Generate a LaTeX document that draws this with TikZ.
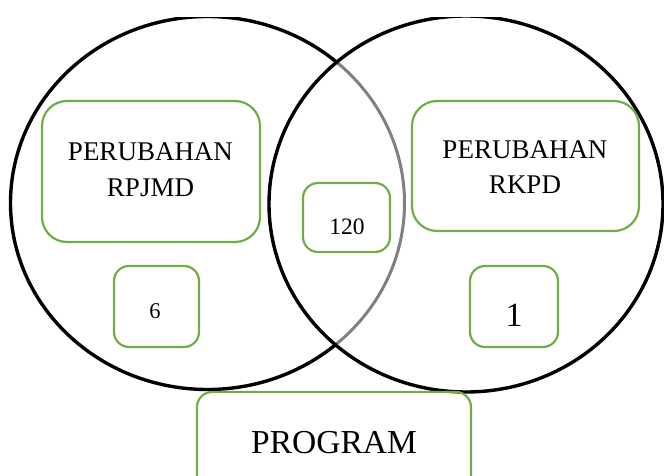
\documentclass[tikz,border=0pt]{standalone}
\usepackage{fontspec}
\setmainfont{Liberation Serif}
\definecolor{boxgreen}{HTML}{70AD47}
\definecolor{arcgray}{HTML}{808080}
\tikzset{
  gbox/.style={draw=boxgreen, line width=2.2pt, inner sep=0pt, fill=none},
  ring/.style={line width=3.4pt},
  txt/.style={inner sep=0pt, align=center, text=black}
}
\begin{document}
\begin{tikzpicture}[x=1pt,y=-1pt]
\clip (0,0) rectangle (664,476);
\useasboundingbox (0,0) rectangle (664,476);
% circles
\begin{scope}
  \clip (0,18) rectangle (664,476);
  \begin{scope}[even odd rule]
    \clip (0,0) rectangle (664,476) (466,204) ellipse [x radius=197pt, y radius=188pt];
    \draw[ring, black] (207.5,203) ellipse [x radius=197pt, y radius=186.5pt];
  \end{scope}
  \begin{scope}
    \clip (466,204) ellipse [x radius=197pt, y radius=188pt];
    \draw[ring, arcgray, line width=3pt] (207.5,203) ellipse [x radius=197pt, y radius=186.5pt];
  \end{scope}
  \draw[ring, black] (466,204) ellipse [x radius=197pt, y radius=188pt];
\end{scope}
% boxes
\node[gbox, rounded corners=25pt, minimum width=218pt, minimum height=141pt] (brpjmd) at (151,171.5) {};
\node[txt, font=\fontsize{27}{36}\selectfont] (trpjmd) at (150.5,170) {PERUBAHAN\\RPJMD};
\node[gbox, rounded corners=25pt, minimum width=227pt, minimum height=130pt] (brkpd) at (525.5,166) {};
\node[txt, font=\fontsize{27}{35}\selectfont] (trkpd) at (525,167) {PERUBAHAN\\RKPD};
\node[gbox, rounded corners=15pt, minimum width=85pt, minimum height=81pt] (b6) at (156.5,306.5) {};
\node[txt, font=\fontsize{22.5}{26}\selectfont] (t6) at (155,311.5) {6};
\node[gbox, rounded corners=15pt, minimum width=87pt, minimum height=69pt] (b120) at (346.5,217.5) {};
\node[txt, font=\fontsize{23.5}{27}\selectfont] (t120) at (347,226.5) {120};
\node[gbox, rounded corners=15pt, minimum width=88pt, minimum height=81pt] (b1) at (514,306.5) {};
\node[txt, font=\fontsize{34}{38}\selectfont] (t1) at (514,315.5) {1};
\node[gbox, rounded corners=15pt, minimum width=274pt, minimum height=100pt] (bprog) at (334,442) {};
\node[txt, font=\fontsize{33.5}{38}\selectfont] (tprog) at (334,443) {PROGRAM};
\end{tikzpicture}
\end{document}
